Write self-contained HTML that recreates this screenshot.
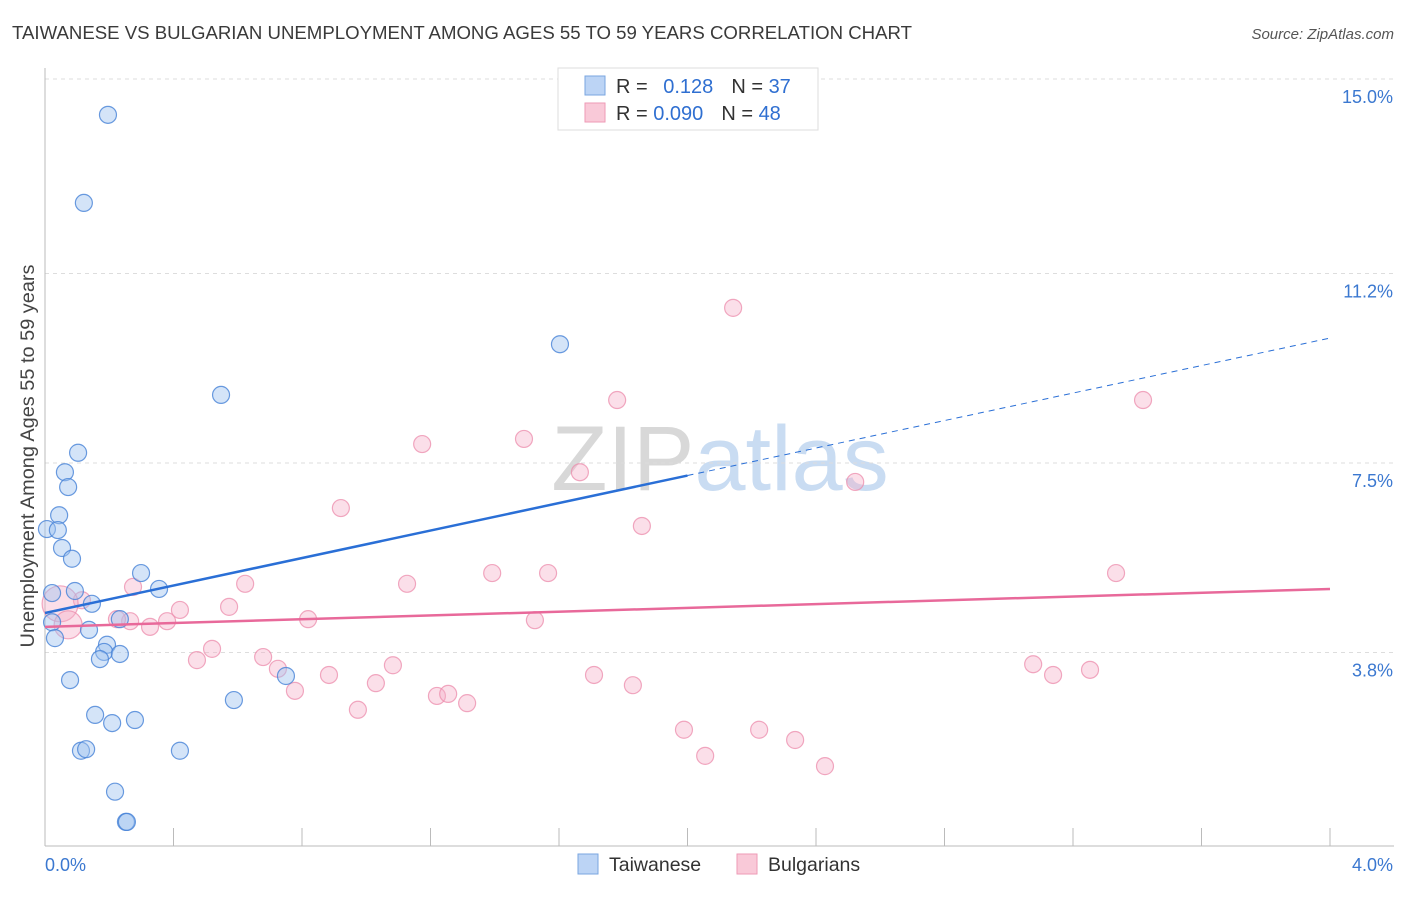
<!DOCTYPE html>
<html><head><meta charset="utf-8"><style>
body{margin:0;background:#fff;font-family:"Liberation Sans",sans-serif;}
svg text{font-family:"Liberation Sans",sans-serif;}
</style></head><body>
<svg id="chart" width="1406" height="892" xmlns="http://www.w3.org/2000/svg">
<text x="12" y="39" font-size="18.4" fill="#3a3a3a" textLength="900" lengthAdjust="spacingAndGlyphs">TAIWANESE VS BULGARIAN UNEMPLOYMENT AMONG AGES 55 TO 59 YEARS CORRELATION CHART</text>
<text x="1394" y="39" font-size="15" fill="#555" font-style="italic" text-anchor="end">Source: ZipAtlas.com</text>
<text x="720" y="490" font-size="92" fill="#dfe5ee" text-anchor="middle" font-family="Liberation Serif"><tspan fill="#d8d8d8">ZIP</tspan><tspan fill="#c9dcf2" font-family="Liberation Sans">atlas</tspan></text>
<g id="grid"></g>
<g id="axes"></g>
<g id="marks"></g>
<text transform="translate(34,456) rotate(-90)" font-size="19" fill="#444" text-anchor="middle" textLength="383" lengthAdjust="spacingAndGlyphs">Unemployment Among Ages 55 to 59 years</text>
<g>
<rect x="558" y="68" width="260" height="62" fill="#fff" stroke="#ddd"/>
<rect x="585" y="76" width="20" height="19" fill="#bcd4f5" stroke="#7aa6e0"/>
<rect x="585" y="103" width="20" height="19" fill="#f9c9d8" stroke="#ee9ab6"/>
<text x="616" y="93" font-size="20" fill="#333">R = <tspan fill="#2f6fd1" dx="10">0.128</tspan><tspan dx="18" fill="#333">N = </tspan><tspan fill="#2f6fd1">37</tspan></text>
<text x="616" y="120" font-size="20" fill="#333">R = <tspan fill="#2f6fd1">0.090</tspan><tspan dx="18" fill="#333">N = </tspan><tspan fill="#2f6fd1">48</tspan></text>
</g>
<g>
<rect x="578" y="854" width="20" height="20" fill="#bcd4f5" stroke="#7aa6e0"/>
<text x="609" y="871" font-size="19.5" fill="#333">Taiwanese</text>
<rect x="737" y="854" width="20" height="20" fill="#f9c9d8" stroke="#ee9ab6"/>
<text x="768" y="871" font-size="19.5" fill="#333">Bulgarians</text>
</g>
</svg>
<script>
const yTicks=[3.8,7.5,11.2,15.0];
const yTickLabels=["3.8%","7.5%","11.2%","15.0%"];
const xTickLabels=["0.0%","4.0%"];
const twX=[0.196,0.121,1.603,0.548,0.103,0.062,0.072,0.044,0.006,0.040,0.053,0.084,0.299,0.355,0.093,0.022,0.146,0.233,0.022,0.137,0.031,0.193,0.184,0.233,0.171,0.078,0.588,0.750,0.156,0.209,0.280,0.112,0.128,0.420,0.218,0.252,0.255];
const twY=[14.30,12.58,9.82,8.83,7.70,7.32,7.03,6.48,6.21,6.19,5.84,5.63,5.35,5.04,5.00,4.96,4.75,4.45,4.39,4.24,4.08,3.95,3.81,3.77,3.67,3.26,2.87,3.34,2.58,2.42,2.48,1.88,1.91,1.88,1.08,0.49,0.49];
const bgX=[2.142,1.781,3.418,1.174,1.491,1.665,2.522,0.921,1.858,3.334,1.392,1.566,1.127,0.623,0.274,0.420,0.573,0.819,1.525,0.115,0.265,0.327,0.380,0.224,0.047,0.072,0.520,0.473,0.679,0.725,1.083,3.076,3.138,3.253,0.884,0.778,1.030,1.220,1.255,1.314,0.974,1.709,1.830,1.989,2.223,2.055,2.335,2.428];
const bgY=[10.53,8.73,8.73,7.87,7.97,7.32,7.13,6.62,6.27,5.35,5.35,5.35,5.14,5.14,5.08,4.63,4.69,4.45,4.43,4.82,4.41,4.30,4.41,4.45,4.75,4.34,3.87,3.65,3.71,3.48,3.55,3.57,3.36,3.46,3.36,3.05,3.20,2.95,2.99,2.81,2.68,3.36,3.16,2.29,2.29,1.78,2.09,1.58];
const bgR=[8.5,8.5,8.5,8.5,8.5,8.5,8.5,8.5,8.5,8.5,8.5,8.5,8.5,8.5,8.5,8.5,8.5,8.5,8.5,8.5,8.5,8.5,8.5,8.5,18,14,8.5,8.5,8.5,8.5,8.5,8.5,8.5,8.5,8.5,8.5,8.5,8.5,8.5,8.5,8.5,8.5,8.5,8.5,8.5,8.5,8.5,8.5];
const twTrend=[4.57,9.94];
const bgTrend=[4.30,5.04];
const twSolidEnd=2.0;

const NS="http://www.w3.org/2000/svg";
const xs=v=>45+v/4*1285;
const ys=v=>79+(15-v)*51.2;
function mk(tag,attrs,parent){const e=document.createElementNS(NS,tag);for(const k in attrs)e.setAttribute(k,attrs[k]);document.getElementById(parent).appendChild(e);return e;}
yTicks.forEach((t,i)=>{
 const l=mk('line',{x1:45,x2:1394,y1:ys(t),y2:ys(t),stroke:'#ddd','stroke-dasharray':'4,4'},'grid');
 
 
 const tx=mk('text',{x:1393,y:ys(t)+24,'font-size':18,fill:'#3b78d0','text-anchor':'end'},'grid');
 tx.textContent=yTickLabels[i];
 
 
});
const ax=mk('line',{x1:45,x2:45,y1:68,y2:846,stroke:'#bbb'},'axes');


const bx=mk('line',{x1:45,x2:1394,y1:846,y2:846,stroke:'#bbb'},'axes');


for(let i=1;i<=10;i++){
 const t=mk('line',{x1:xs(i*0.4),x2:xs(i*0.4),y1:828,y2:846,stroke:'#bbb'},'axes');
 
 
}
[[0,'start',45],[4,'end',1393]].forEach((d,i)=>{
 const t=mk('text',{x:d[2],y:871,'font-size':18,fill:'#3b78d0','text-anchor':d[1]},'axes');
 t.textContent=xTickLabels[i];
 
 
});
bgX.forEach((x,i)=>{
 const c=mk('circle',{cx:xs(x),cy:ys(bgY[i]),r:bgR[i],fill:'rgba(246,176,200,0.4)',stroke:'rgba(236,140,172,0.75)','stroke-width':1.2},'marks');
 
 
});
twX.forEach((x,i)=>{
 const c=mk('circle',{cx:xs(x),cy:ys(twY[i]),r:8.5,fill:'rgba(160,196,240,0.45)',stroke:'rgba(70,130,215,0.8)','stroke-width':1.2},'marks');
 
 
});
const tw=v=>twTrend[0]+(twTrend[1]-twTrend[0])*v/4;
const l1=mk('line',{x1:xs(0),y1:ys(tw(0)),x2:xs(twSolidEnd),y2:ys(tw(twSolidEnd)),stroke:'#2a6fd6','stroke-width':2.5},'marks');


const l2=mk('line',{x1:xs(twSolidEnd),y1:ys(tw(twSolidEnd)),x2:xs(4),y2:ys(tw(4)),stroke:'#2a6fd6','stroke-width':1,'stroke-dasharray':'6,5'},'marks');


const l3=mk('line',{x1:xs(0),y1:ys(bgTrend[0]),x2:xs(4),y2:ys(bgTrend[1]),stroke:'#e8699a','stroke-width':2.5},'marks');


</script>
</body></html>
